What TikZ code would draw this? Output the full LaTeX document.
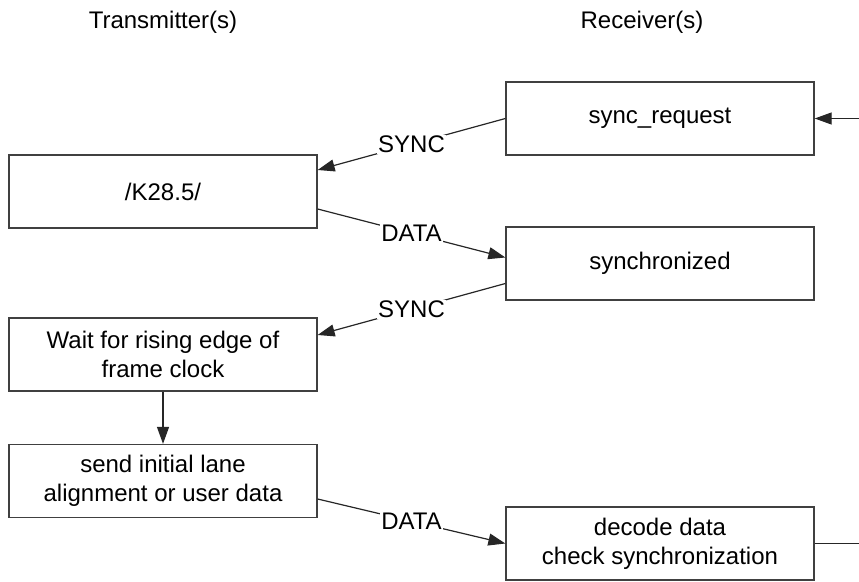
\documentclass[tikz,border=0pt]{standalone}
\usepackage{fontspec}
\setmainfont{Liberation Sans}
\usepackage{xcolor}
\usepackage{tikz}
\usetikzlibrary{arrows.meta, positioning}

\begin{document}
\begin{tikzpicture}[
    x=1pt, y=-1pt,
    box/.style={draw=black!75, line width=1.3pt, minimum width=308pt, minimum height=73pt, inner sep=0pt, align=center, font=\fontsize{24}{29}\selectfont},
    head/.style={font=\fontsize{24}{29}\selectfont},
    arr/.style={-{Triangle[length=17pt, width=12pt]}, line width=1.2pt, black!85},
    lnk/.style={line width=1.2pt, black!85},
    lbl/.style={fill=white, inner sep=1pt, text=black, font=\fontsize{24}{29}\selectfont}
  ]
    \useasboundingbox (0,0) rectangle (859,581);
    \node[head] (tx) at (163,22) {Transmitter(s)};
    \node[head] (rx) at (642,22) {Receiver(s)};
    \node[box] (sreq) at (660,118.5) {sync\_request};
    \node[box] (k28) at (163,191.5) {/K28.5/};
    \node[box] (synced) at (660,263.5) {synchronized};
    \node[box] (wait) at (163,354.5) {Wait for rising edge of\\frame clock};
    \node[box] (send) at (163,481) {send initial lane\\alignment or user data};
    \node[box] (dec) at (660,543.5) {decode data\\check synchronization};
    \coordinate (rin) at (859,118.5);
    \coordinate (rout) at (859,543.5);
    \draw[arr] (rin) -- (sreq.east);
    \draw[arr] (sreq.west) -- node[lbl] {SYNC} ([yshift=21.5pt]k28.east);
    \draw[arr] ([yshift=-17.5pt]k28.east) -- node[lbl] {DATA} ([yshift=6pt]synced.west);
    \draw[arr] ([yshift=-20pt]synced.west) -- node[lbl] {SYNC} ([yshift=19.5pt]wait.east);
    \draw[arr] (wait) -- (send);
    \draw[arr] ([yshift=-18pt]send.east) -- node[lbl] {DATA} (dec.west);
    \draw[lnk] (dec.east) -- (rout);
  \end{tikzpicture}
\end{document}
